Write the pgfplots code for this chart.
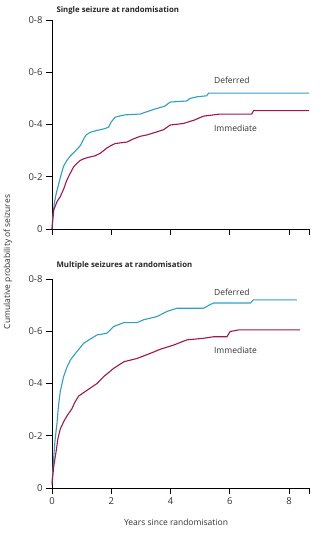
\documentclass[border=0pt]{standalone}
\usepackage{pgfplots}
\pgfplotsset{compat=1.18}
\usepackage{fontspec}
\setmainfont{Open Sans}
\definecolor{defblue}{HTML}{2E9FC6}
\definecolor{immred}{HTML}{A3144D}
\definecolor{txt}{HTML}{333333}
\pgfplotsset{
  kmaxis/.style={
    scale only axis, width=257pt, height=209pt,
    xmin=0, xmax=8.67, ymin=0, ymax=0.8,
    axis x line=bottom, axis y line=left,
    axis line style={-, line width=0.9pt},
    tick style={line width=0.9pt, black},
    tick align=outside, major tick length=6pt,
    xtick={0,2,4,6,8}, extra x ticks={8.67}, extra x tick labels={},
    ytick={0,0.2,0.4,0.6,0.8},
    yticklabels={0,0-2,0-4,0-6,0-8},
    /pgf/number format/assume math mode=true,
    tick label style={font=\fontsize{9.5}{11}\selectfont, text=txt},
    clip=false,
  },
}
\begin{document}
\begin{tikzpicture}[x=1pt,y=1pt]
\path[use as bounding box] (0,0) rectangle (327,-534);
% top panel
\begin{axis}[kmaxis, at={(52pt,-229pt)}, anchor=south west, xticklabels={}]
\addplot[defblue, line width=1.1pt] coordinates {
(0,0) (0.03,0.05) (0.08,0.1) (0.15,0.14) (0.22,0.17) (0.3,0.205) (0.39,0.24) (0.5,0.262) (0.62,0.28) (0.8,0.30) (0.96,0.32) (1.07,0.345) (1.15,0.36) (1.29,0.37) (1.5,0.377) (1.63,0.38) (1.8,0.385) (1.91,0.39) (2.0,0.41) (2.13,0.428) (2.3,0.433) (2.47,0.437) (2.98,0.44) (3.15,0.447) (3.31,0.453) (3.5,0.46) (3.65,0.465) (3.8,0.47) (3.99,0.486) (4.55,0.49) (4.66,0.5) (4.89,0.506) (5.22,0.51) (5.28,0.52) (8.67,0.52)
};
\addplot[immred, line width=1.1pt] coordinates {
(0,0) (0.03,0.04) (0.06,0.073) (0.17,0.105) (0.28,0.124) (0.4,0.155) (0.5,0.187) (0.6,0.21) (0.73,0.238) (0.85,0.252) (0.96,0.263) (1.1,0.27) (1.29,0.276) (1.45,0.28) (1.63,0.29) (1.85,0.31) (2.0,0.32) (2.13,0.327) (2.53,0.333) (2.75,0.345) (2.98,0.355) (3.2,0.36) (3.43,0.368) (3.76,0.38) (3.99,0.398) (4.44,0.404) (4.6,0.41) (4.78,0.416) (5.11,0.432) (5.67,0.44) (6.74,0.44) (6.8,0.453) (8.67,0.453)
};
\node[anchor=west, text=txt, font=\fontsize{8.5}{10}\selectfont] at (axis cs:5.35,0.57) {Deferred};
\node[anchor=west, text=txt, font=\fontsize{8.5}{10}\selectfont] at (axis cs:5.35,0.385) {Immediate};
\end{axis}
% bottom panel
\begin{axis}[kmaxis, at={(52pt,-488pt)}, anchor=south west]
\addplot[defblue, line width=1.1pt] coordinates {
(0,0.02) (0.03,0.07) (0.06,0.12) (0.1,0.18) (0.17,0.25) (0.22,0.316) (0.28,0.37) (0.39,0.426) (0.51,0.464) (0.62,0.49) (0.84,0.522) (1.07,0.554) (1.29,0.57) (1.52,0.586) (1.85,0.592) (2.08,0.618) (2.42,0.633) (2.87,0.633) (3.09,0.644) (3.54,0.656) (3.88,0.676) (4.21,0.688) (5.11,0.688) (5.3,0.70) (5.45,0.708) (6.69,0.708) (6.8,0.72) (8.26,0.72)
};
\addplot[immred, line width=1.1pt] coordinates {
(0,0.013) (0.03,0.05) (0.06,0.084) (0.15,0.148) (0.2,0.19) (0.28,0.226) (0.4,0.255) (0.51,0.277) (0.67,0.303) (0.78,0.33) (0.9,0.352) (1.18,0.374) (1.52,0.4) (1.74,0.426) (2.08,0.458) (2.42,0.483) (2.87,0.496) (3.31,0.515) (3.65,0.531) (4.1,0.547) (4.55,0.567) (5.11,0.573) (5.45,0.579) (5.9,0.579) (6.01,0.599) (6.29,0.605) (8.37,0.605)
};
\node[anchor=west, text=txt, font=\fontsize{8.5}{10}\selectfont] at (axis cs:5.35,0.749) {Deferred};
\node[anchor=west, text=txt, font=\fontsize{8.5}{10}\selectfont] at (axis cs:5.35,0.528) {Immediate};
\end{axis}
\node[anchor=west, font=\bfseries\fontsize{7.8}{10}\selectfont, text=black!85] at (53,-10) {Single seizure at randomisation};
\node[anchor=west, font=\bfseries\fontsize{7.8}{10}\selectfont, text=black!85] at (53,-265) {Multiple seizures at randomisation};
\node[rotate=90, text=txt, font=\fontsize{8.5}{10}\selectfont] at (8,-262) {Cumulative probability of seizures};
\node[text=txt, font=\fontsize{8.5}{10}\selectfont] at (176,-522) {Years since randomisation};
\end{tikzpicture}
\end{document}
